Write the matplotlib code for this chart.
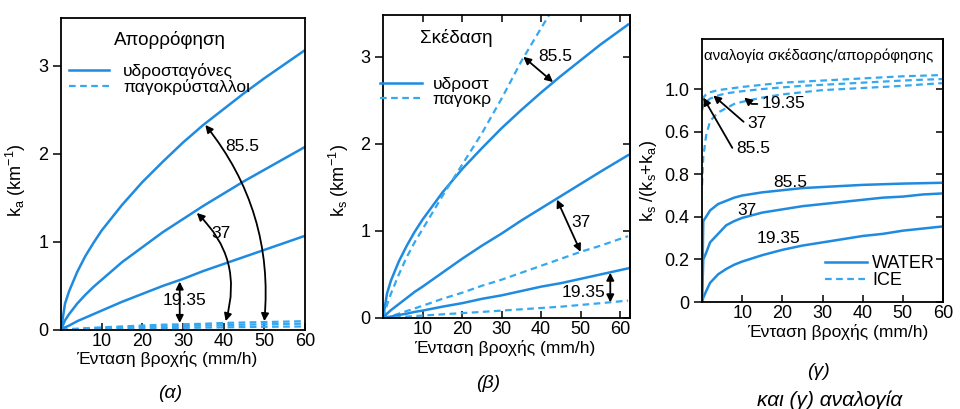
import matplotlib
matplotlib.use("Agg")
import matplotlib.pyplot as plt
from matplotlib.lines import Line2D

plt.rcParams['font.family'] = ['Liberation Sans', 'DejaVu Sans']
plt.rcParams['mathtext.fontset'] = 'custom'
plt.rcParams['mathtext.rm'] = 'Liberation Sans'
plt.rcParams['mathtext.it'] = 'Liberation Sans:italic'
plt.rcParams['axes.linewidth'] = 1.3

WATER = '#1f8be0'
ICE = '#35a8f0'
ICE_DASH = (0, (3, 2))

freqs = ['85.5', '37', '19.35']

# (α) απορρόφηση k_a (km^-1) ως προς ένταση βροχής (mm/h)
rain_a = [0, 1, 2, 4, 6, 8, 10, 15, 20, 25, 30, 35, 40, 45, 50, 55, 60]
ka_water = {
    '85.5': [0, 0.30, 0.44, 0.66, 0.84, 0.99, 1.13, 1.42, 1.68, 1.91, 2.13, 2.33, 2.51, 2.69, 2.86, 3.02, 3.18],
    '37': [0, 0.11, 0.18, 0.30, 0.40, 0.49, 0.57, 0.77, 0.94, 1.11, 1.26, 1.41, 1.55, 1.69, 1.82, 1.95, 2.08],
    '19.35': [0, 0.03, 0.05, 0.10, 0.14, 0.18, 0.22, 0.32, 0.41, 0.50, 0.58, 0.67, 0.75, 0.83, 0.91, 0.99, 1.07],
}
ka_ice = {
    '85.5': [0, 0.005, 0.01, 0.015, 0.02, 0.025, 0.03, 0.04, 0.05, 0.06, 0.065, 0.07, 0.08, 0.085, 0.09, 0.095, 0.10],
    '37': [0, 0.003, 0.006, 0.01, 0.014, 0.018, 0.02, 0.027, 0.033, 0.04, 0.045, 0.05, 0.055, 0.06, 0.064, 0.068, 0.072],
    '19.35': [0, 0.001, 0.002, 0.004, 0.006, 0.008, 0.01, 0.014, 0.018, 0.021, 0.024, 0.027, 0.03, 0.033, 0.036, 0.038, 0.04],
}

# (β) σκέδαση k_s (km^-1)
rain_b = [0, 1, 2, 4, 6, 8, 10, 15, 20, 25, 30, 35, 40, 45, 50, 55, 62]
ks_water = {
    '85.5': [0, 0.28, 0.43, 0.65, 0.83, 0.99, 1.13, 1.44, 1.71, 1.95, 2.18, 2.39, 2.59, 2.78, 2.96, 3.14, 3.37],
    '37': [0, 0.05, 0.09, 0.16, 0.23, 0.30, 0.36, 0.52, 0.68, 0.83, 0.97, 1.12, 1.26, 1.40, 1.54, 1.68, 1.87],
    '19.35': [0, 0.008, 0.016, 0.035, 0.05, 0.07, 0.085, 0.13, 0.17, 0.22, 0.26, 0.31, 0.36, 0.40, 0.45, 0.50, 0.57],
}
ks_ice = {
    '85.5': [0, 0.15, 0.28, 0.50, 0.70, 0.87, 1.02, 1.40, 1.76, 2.12, 2.52, 2.95, 3.33, 3.70, 4.05, 4.40, 4.90],
    '37': [0, 0.01, 0.02, 0.05, 0.08, 0.11, 0.14, 0.22, 0.29, 0.37, 0.44, 0.52, 0.60, 0.68, 0.76, 0.83, 0.94],
    '19.35': [0, 0.002, 0.005, 0.01, 0.016, 0.022, 0.028, 0.042, 0.056, 0.07, 0.085, 0.10, 0.115, 0.13, 0.15, 0.17, 0.20],
}

# (γ) λόγος k_s/(k_s+k_a)
rain_c = [0, 0.3, 1, 2, 4, 6, 8, 10, 15, 20, 25, 30, 35, 40, 45, 50, 55, 60]
ratio_water = {
    '85.5': [0, 0.38, 0.40, 0.43, 0.46, 0.475, 0.49, 0.50, 0.515, 0.525, 0.535, 0.54, 0.545, 0.55, 0.553, 0.556, 0.558, 0.56],
    '37': [0, 0.20, 0.23, 0.28, 0.32, 0.36, 0.38, 0.395, 0.42, 0.435, 0.45, 0.46, 0.47, 0.48, 0.49, 0.495, 0.505, 0.51],
    '19.35': [0, 0.02, 0.05, 0.09, 0.13, 0.155, 0.175, 0.19, 0.22, 0.245, 0.265, 0.28, 0.295, 0.31, 0.32, 0.335, 0.345, 0.355],
}
ratio_ice = {
    '85.5': [0.95, 0.96, 0.975, 0.985, 0.995, 1.0, 1.005, 1.01, 1.02, 1.03, 1.035, 1.04, 1.045, 1.05, 1.055, 1.06, 1.063, 1.066],
    '37': [0.90, 0.92, 0.94, 0.955, 0.97, 0.98, 0.985, 0.99, 1.0, 1.008, 1.015, 1.02, 1.025, 1.03, 1.035, 1.04, 1.044, 1.047],
    '19.35': [0.55, 0.68, 0.78, 0.85, 0.89, 0.91, 0.93, 0.94, 0.96, 0.975, 0.985, 0.995, 1.0, 1.005, 1.01, 1.015, 1.022, 1.028],
}

x_ticks = [10, 20, 30, 40, 50, 60]
ya_ticks = [0, 1, 2, 3]
yc_ticks = [0, 0.2, 0.4, 0.6, 0.8, 1.0]
yc_labels = ['0', '0.2', '0.4', '0.8', '0.6', '1.0']
xlabel = 'Ένταση βροχής (mm/h)'

fig = plt.figure(figsize=(9.6, 4.09), dpi=100)
ax_a = fig.add_axes([0.0635, 0.1932, 0.2542, 0.7628])
ax_b = fig.add_axes([0.399, 0.2225, 0.2573, 0.7408])
ax_c = fig.add_axes([0.7313, 0.2616, 0.251, 0.643])


def style(ax, xmax, ymax, yticks, ylabels=None, right_in=True, top_in=False):
    ax.set_xlim(0, xmax)
    ax.set_ylim(0, ymax)
    ax.set_xticks(x_ticks)
    ax.set_yticks(yticks)
    if ylabels is not None:
        ax.set_yticklabels(ylabels)
    ax.tick_params(axis='x', direction='in', length=5, width=1.1, pad=2,
                   labelsize=13, top=top_in)
    ax.tick_params(axis='y', direction='out', length=6, width=1.1, pad=3,
                   labelsize=13)
    if right_in:
        sec = ax.secondary_yaxis('right')
        sec.set_yticks(yticks)
        sec.tick_params(direction='in', length=5, width=1.1, labelright=False)


def arrow(ax, start, end, rad=0.0, style='<|-|>'):
    ax.annotate('', xy=end, xytext=start,
                arrowprops=dict(arrowstyle=style, color='black', lw=1.3,
                                mutation_scale=11, shrinkA=0, shrinkB=0,
                                connectionstyle=f'arc3,rad={rad}'))


# ---- (α) Απορρόφηση ----
for f in freqs:
    ax_a.plot(rain_a, ka_water[f], color=WATER, lw=1.8)
    ax_a.plot(rain_a, ka_ice[f], color=ICE, lw=1.6, linestyle=ICE_DASH)
style(ax_a, 60, 3.545, ya_ticks, right_in=False)
ax_a.set_ylabel(r'k$_{\rm a}$ (km$^{-1}$)', fontsize=13)
ax_a.yaxis.set_label_coords(-0.135, 0.48)
ax_a.set_xlabel(xlabel, fontsize=12.5)
ax_a.xaxis.set_label_coords(0.434, -0.068)
ax_a.text(26.8, 3.3, 'Απορρόφηση', fontsize=13.5, ha='center', va='center')
ax_a.legend(handles=[Line2D([], [], color=WATER, lw=1.8),
                     Line2D([], [], color=ICE, lw=1.6, linestyle=ICE_DASH)],
            labels=['υδροσταγόνες', 'παγοκρύσταλλοι'],
            loc='upper left', bbox_to_anchor=(-0.015, 0.895), frameon=False,
            fontsize=12.5, handlelength=2.3, handletextpad=0.8,
            labelspacing=0.0, borderaxespad=0.3)
arrow(ax_a, (35.5, 2.33), (50, 0.1), rad=-0.2)
arrow(ax_a, (33.4, 1.33), (40.5, 0.1), rad=-0.3)
arrow(ax_a, (29.2, 0.55), (29.2, 0.08))
ax_a.text(44.6, 2.08, '85.5', fontsize=12.5, ha='center', va='center')
ax_a.text(39.4, 1.10, '37', fontsize=12.5, ha='center', va='center')
ax_a.text(30.3, 0.34, '19.35', fontsize=12.5, ha='center', va='center')

# ---- (β) Σκέδαση ----
for f in freqs:
    ax_b.plot(rain_b, ks_water[f], color=WATER, lw=1.8)
    ax_b.plot(rain_b, ks_ice[f], color=ICE, lw=1.6, linestyle=ICE_DASH)
style(ax_b, 62.5, 3.48, ya_ticks, top_in=True)
ax_b.set_ylabel(r'k$_{\rm s}$ (km$^{-1}$)', fontsize=13)
ax_b.yaxis.set_label_coords(-0.13, 0.455)
ax_b.set_xlabel(xlabel, fontsize=12.5)
ax_b.xaxis.set_label_coords(0.494, -0.072)
ax_b.text(18.5, 3.22, 'Σκέδαση', fontsize=13.5, ha='center', va='center')
ax_b.legend(handles=[Line2D([], [], color=WATER, lw=1.8),
                     Line2D([], [], color=ICE, lw=1.6, linestyle=ICE_DASH)],
            labels=['υδροστ', 'παγοκρ'],
            loc='upper left', bbox_to_anchor=(-0.06, 0.835), frameon=False,
            fontsize=12.5, handlelength=2.4, handletextpad=0.6,
            labelspacing=0.0, borderaxespad=0.3)
arrow(ax_b, (35.5, 3.0), (43, 2.71))
arrow(ax_b, (44, 1.36), (50, 0.76))
arrow(ax_b, (57.5, 0.52), (57.5, 0.18))
ax_b.text(39.2, 3.0, '85.5', fontsize=12.5, ha='left', va='center')
ax_b.text(50.1, 1.10, '37', fontsize=12.5, ha='center', va='center')
ax_b.text(50.8, 0.29, '19.35', fontsize=12.5, ha='center', va='center')

# ---- (γ) λόγος σκέδασης/απορρόφησης ----
for f in freqs:
    ax_c.plot(rain_c, ratio_water[f], color=WATER, lw=1.8)
    ax_c.plot(rain_c, ratio_ice[f], color=ICE, lw=1.6, linestyle=ICE_DASH)
style(ax_c, 60, 1.235, yc_ticks, yc_labels)
ax_c.set_ylabel(r'k$_{\rm s}$ /(k$_{\rm s}$+k$_{\rm a}$)', fontsize=13)
ax_c.yaxis.set_label_coords(-0.18, 0.46)
ax_c.set_xlabel(xlabel, fontsize=12.5)
ax_c.xaxis.set_label_coords(0.564, -0.085)
ax_c.text(0.01, 0.965, 'αναλογία σκέδασης/απορρόφησης', transform=ax_c.transAxes,
          fontsize=10.8, ha='left', va='top')
ax_c.legend(handles=[Line2D([], [], color=WATER, lw=1.8),
                     Line2D([], [], color=ICE, lw=1.6, linestyle=ICE_DASH)],
            labels=['WATER', 'ICE'],
            loc='lower right', bbox_to_anchor=(1.02, 0.0), frameon=False,
            fontsize=13, handlelength=2.3, handletextpad=0.3,
            labelspacing=0.0, borderaxespad=0.3)
ax_c.text(21.9, 0.563, '85.5', fontsize=12.5, ha='center', va='center')
ax_c.text(11.3, 0.43, '37', fontsize=12.5, ha='center', va='center')
ax_c.text(19.0, 0.296, '19.35', fontsize=12.5, ha='center', va='center')

for label, txt_xy, tip, angb in [('85.5', (8.5, 0.72), (0.3, 0.96), 120),
                                 ('37', (11.3, 0.84), (2.8, 0.97), 139),
                                 ('19.35', (14.8, 0.93), (10.5, 0.96), 140)]:
    ax_c.annotate(label, xy=tip, xytext=txt_xy, fontsize=12.5, ha='left', va='center',
                  arrowprops=dict(arrowstyle='-|>', color='black', lw=1.3,
                                  mutation_scale=11, shrinkA=1, shrinkB=0,
                                  connectionstyle=f'angle,angleA=0,angleB={angb},rad=0'))

# panel letters and running caption
fig.text(170 / 960, 1 - 393 / 409, '(α)', fontsize=14, style='italic', ha='center', va='center')
fig.text(488 / 960, 1 - 383 / 409, '(β)', fontsize=14, style='italic', ha='center', va='center')
fig.text(818 / 960, 1 - 372 / 409, '(γ)', fontsize=14, style='italic', ha='center', va='center')
fig.text(757 / 960, 1 - 390 / 409, 'και (γ) αναλογία', fontsize=15, style='italic',
         ha='left', va='top')

fig.savefig('out.png', dpi=100)
